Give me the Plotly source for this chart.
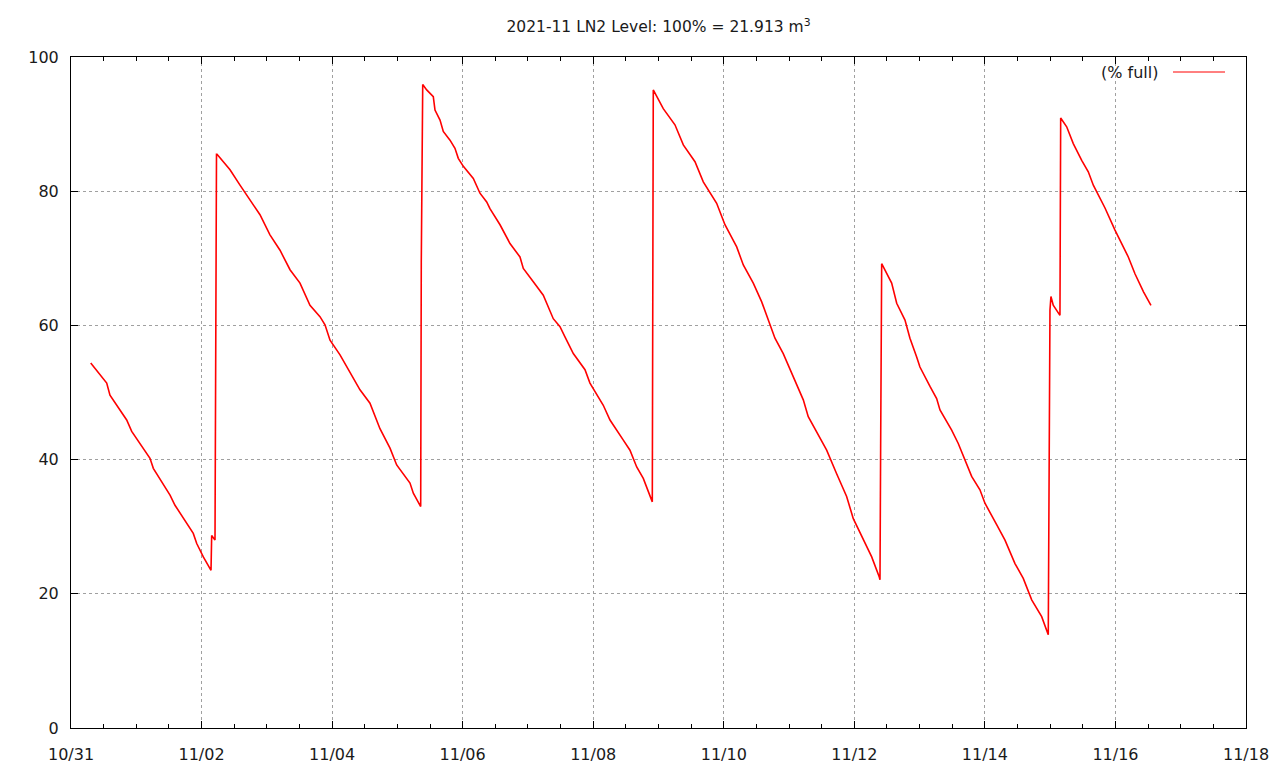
import pandas as pd
import plotly.graph_objects as go

# Time as fractional days since 2021-10-31 00:00
days_since_oct31 = [
    0.302, 0.547, 0.597, 0.777, 0.853, 0.930, 1.210, 1.261, 1.517, 1.593,
    1.873, 1.926, 2.027, 2.145, 2.155, 2.206, 2.214, 2.229,
    2.237, 2.436, 2.589, 2.742, 2.895, 3.048, 3.202, 3.355, 3.508, 3.661,
    3.814, 3.891, 3.968, 4.121, 4.274, 4.427, 4.580, 4.733, 4.887, 4.989,
    5.193, 5.244, 5.357, 5.366, 5.388,
    5.449, 5.550, 5.576, 5.653, 5.703, 5.806, 5.882, 5.933, 6.010, 6.163,
    6.215, 6.265, 6.368, 6.418, 6.572, 6.725, 6.878, 6.929, 7.082, 7.235,
    7.388, 7.491, 7.567, 7.695, 7.874, 7.950, 8.154, 8.257, 8.461, 8.563,
    8.666, 8.767, 8.905, 8.908, 8.920,
    9.073, 9.252, 9.380, 9.559, 9.686, 9.891, 10.018, 10.198, 10.299, 10.452,
    10.581, 10.708, 10.784, 10.911, 11.065, 11.218, 11.294, 11.473, 11.576,
    11.729, 11.882, 11.984, 12.137, 12.266, 12.382, 12.393, 12.403, 12.419,
    12.572, 12.649, 12.776, 12.852, 12.955, 13.005, 13.159, 13.261, 13.312,
    13.491, 13.592, 13.695, 13.797, 13.924, 14.001, 14.180, 14.308, 14.461,
    14.588, 14.717, 14.870, 14.971, 14.974, 14.997, 15.012, 15.047, 15.150,
    15.161,
    15.253, 15.354, 15.483, 15.584, 15.661, 15.840, 15.993, 16.070, 16.197,
    16.299, 16.430, 16.544,
]

# LN2 level, percent full
level_pct = [
    54.4, 51.4, 49.6, 46.9, 45.9, 44.2, 40.2, 38.7, 34.7, 33.2,
    29.0, 27.5, 25.5, 23.5, 28.7, 28.0, 63.6, 85.5,
    85.5, 83.2, 80.9, 78.7, 76.5, 73.5, 71.2, 68.3, 66.3, 63.0,
    61.3, 60.1, 57.8, 55.6, 53.1, 50.4, 48.4, 44.6, 41.7, 39.2,
    36.5, 35.0, 33.0, 69.4, 95.9,
    95.1, 94.1, 92.1, 90.6, 88.9, 87.6, 86.4, 84.9, 83.7, 81.9,
    80.9, 79.7, 78.4, 77.4, 75.0, 72.2, 70.2, 68.5, 66.5, 64.5,
    61.0, 59.8, 58.3, 55.8, 53.4, 51.4, 48.1, 45.9, 42.9, 41.4,
    38.9, 37.2, 33.7, 66.9, 95.1,
    92.3, 89.9, 86.9, 84.4, 81.4, 78.2, 75.0, 71.7, 69.0, 66.3,
    63.5, 60.1, 58.1, 55.8, 52.4, 48.9, 46.4, 43.2, 41.4,
    37.9, 34.5, 31.2, 28.0, 25.5, 22.5, 22.1, 41.7, 69.2,
    66.3, 63.3, 60.8, 58.1, 55.3, 53.8, 50.9, 49.1, 47.4,
    44.4, 42.4, 39.9, 37.5, 35.5, 33.5, 30.3, 28.0, 24.5,
    22.3, 19.1, 16.6, 13.9, 23.5, 62.3, 64.3, 63.0, 61.5,
    90.9,
    89.6, 87.1, 84.6, 82.9, 80.9, 77.5, 74.2, 72.7, 70.2,
    67.7, 65.0, 63.0,
]

series_name = "(% full)"
title_text = "2021-11 LN2 Level: 100% = 21.913 m<sup>3</sup>"
x_start, x_end = "2021-10-31", "2021-11-18"
y_ticks = [0, 20, 40, 60, 80, 100]

times = pd.Timestamp(x_start) + pd.to_timedelta(days_since_oct31, unit="D")

FONT = "DejaVu Sans"
TXT = "#1a1a1a"
fig = go.Figure()
fig.add_trace(go.Scatter(
    x=times, y=level_pct, mode="lines", name=series_name,
    line=dict(color="#ff0000", width=1.6), showlegend=False,
))

DAY_MS = 24 * 3600 * 1000
fig.update_xaxes(
    range=[x_start, x_end], type="date", tickformat="%m/%d",
    tick0=x_start, dtick=2 * DAY_MS,
    ticks="inside", ticklen=7, tickcolor="black", tickwidth=1,
    showline=True, linecolor="black", linewidth=1, mirror="ticks",
    showgrid=True, gridcolor="#a0a0a0", griddash="dot", gridwidth=1,
    minor=dict(ticks="inside", ticklen=4, tickcolor="black", dtick=DAY_MS / 2,
               tick0=x_start, showgrid=False),
    tickfont=dict(family=FONT, size=16, color=TXT),
    zeroline=False, ticklabelstandoff=12, automargin=False,
)
fig.update_yaxes(
    range=[0, 100], tickvals=y_ticks,
    ticks="inside", ticklen=7, tickcolor="black", tickwidth=1,
    showline=True, linecolor="black", linewidth=1, mirror="ticks",
    showgrid=True, gridcolor="#a0a0a0", griddash="dot", gridwidth=1,
    tickfont=dict(family=FONT, size=16, color=TXT),
    zeroline=False, ticklabelstandoff=8, automargin=False,
)
fig.update_layout(
    width=1280, height=768,
    margin=dict(l=71, r=34, t=57, b=40, autoexpand=False),
    paper_bgcolor="white", plot_bgcolor="white",
    title=dict(text=title_text, x=0.5, xref="paper", y=1 - 27 / 768,
               yref="container", yanchor="middle", xanchor="center",
               font=dict(family=FONT, size=15.5, color=TXT)),
    font=dict(family=FONT, size=16, color=TXT),
)
# gnuplot-style key: label text on the left, line sample on the right
fig.add_annotation(text=series_name, xref="paper", yref="paper",
                   x=(1160 - 71) / 1175, y=1 - (72 - 57) / 671,
                   xanchor="right", yanchor="middle", showarrow=False,
                   font=dict(family=FONT, size=16, color=TXT))
fig.add_shape(type="line", xref="paper", yref="paper",
              x0=(1173 - 71) / 1175, x1=(1225 - 71) / 1175,
              y0=1 - (72 - 57) / 671, y1=1 - (72 - 57) / 671,
              line=dict(color="#ff0000", width=1))

fig.write_html("out.html", config={"displayModeBar": False},
               post_script="document.body.style.margin='0';")
